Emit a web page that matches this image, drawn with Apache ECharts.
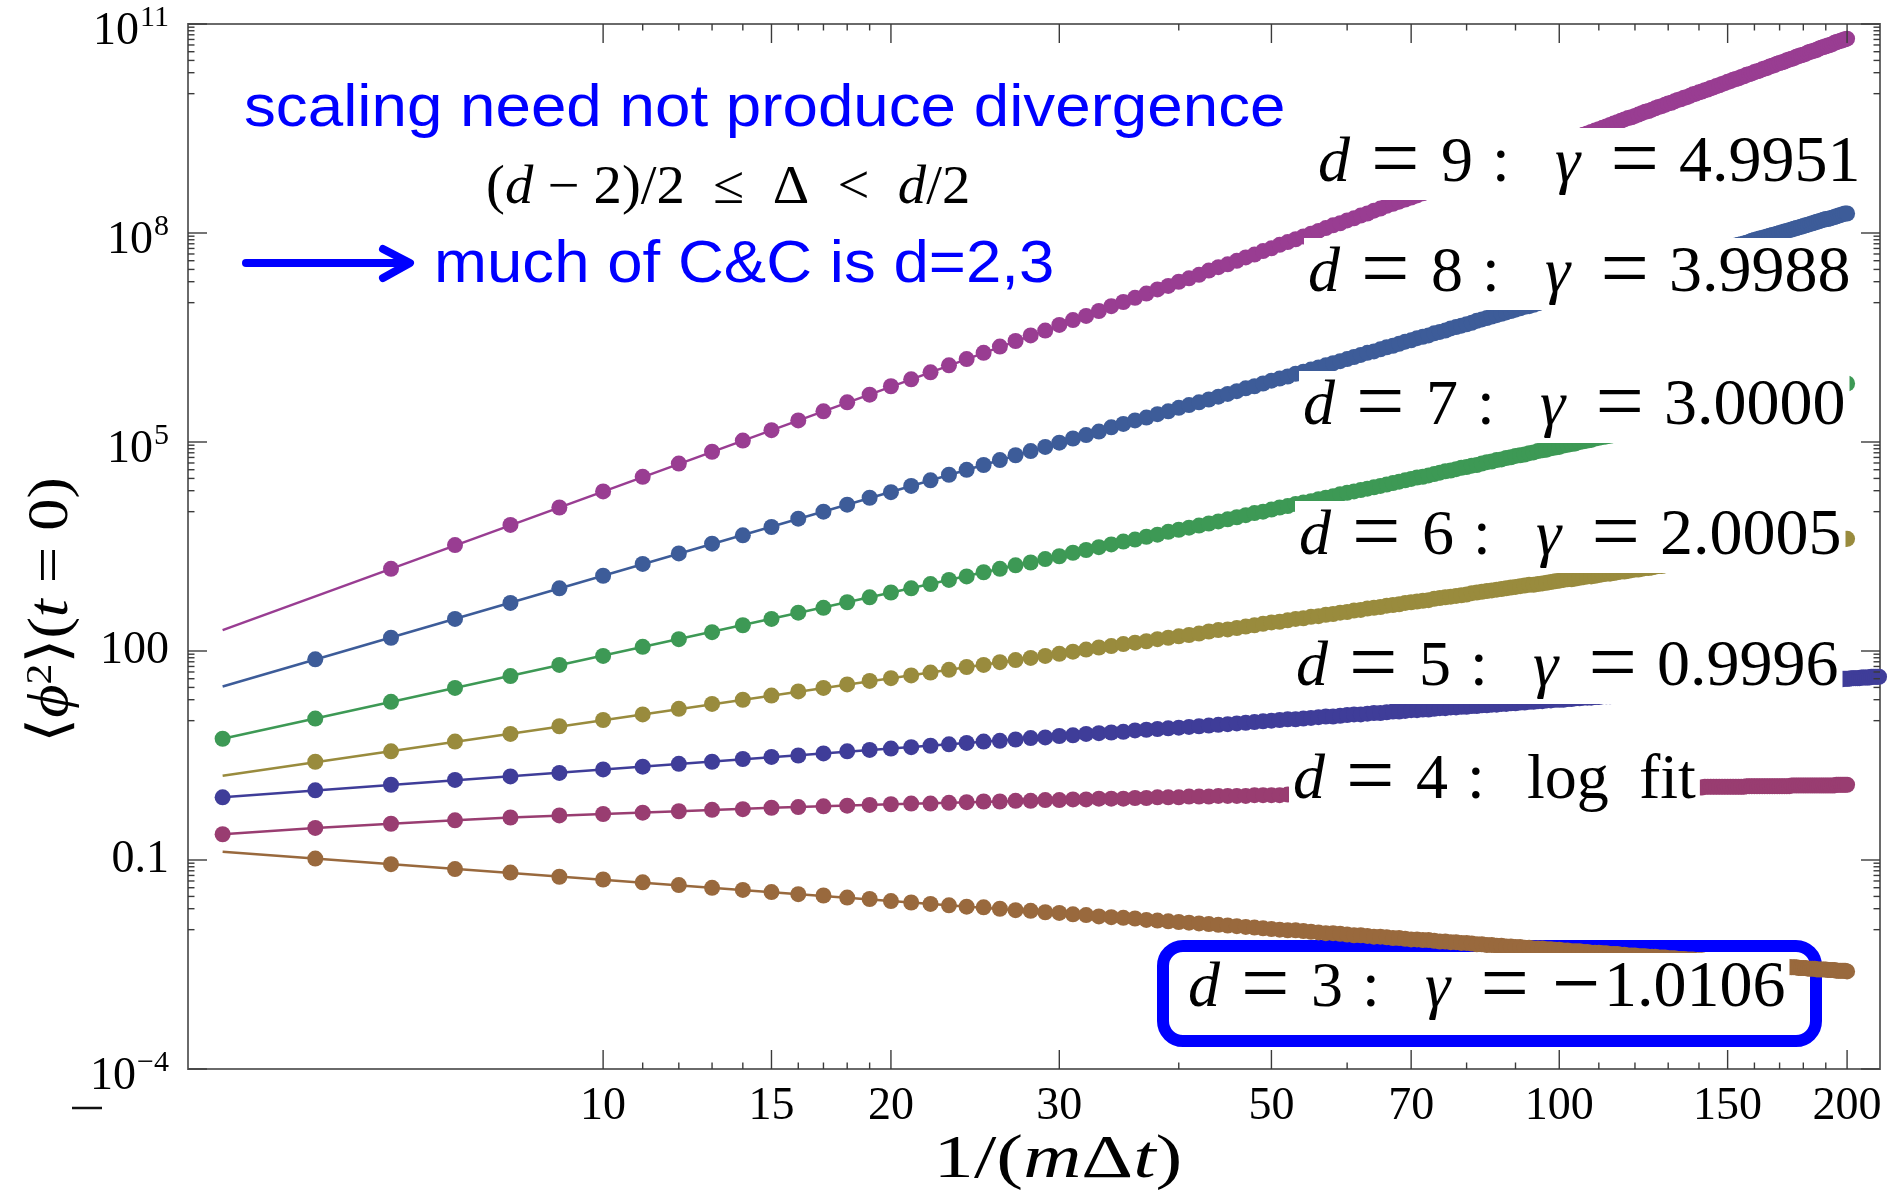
<!DOCTYPE html>
<html>
<head>
<meta charset="utf-8">
<title>phi^2 vs 1/(m dt)</title>
<script src="https://cdn.jsdelivr.net/npm/echarts@6/dist/echarts.min.js"></script>
<style>
  html, body { margin: 0; padding: 0; background: #fff; }
  #chart { width: 1895px; height: 1197px; }
</style>
</head>
<body>
<div id="chart"></div>
<script>
// ---------------------------------------------------------------
// Data: <phi^2>(t=0) against 1/(m dt), one set per dimension d.
// Values are stored as log10 of <phi^2>, one per integer N = 1/(m dt)
// starting at the set's first N.
// ---------------------------------------------------------------
const nValues = [4,5,6,7,8,9,10,11,12,13,14,15,16,17,18,19,20,21,22,23,24,25,26,27,28,29,30,
  31,32,33,34,35,36,37,38,39,40,41,42,43,44,45,46,47,48,49,50,51,52,53,54,55,56,57,58,59,60,
  61,62,63,64,65,66,67,68,69,70,71,72,73,74,75,76,77,78,79,80,81,82,83,84,85,86,87,88,89,90,
  91,92,93,94,95,96,97,98,99,100,101,102,103,104,105,106,107,108,109,110,111,112,113,114,115,
  116,117,118,119,120,121,122,123,124,125,126,127,128,129,130,131,132,133,134,135,136,137,138,
  139,140,141,142,143,144,145,146,147,148,149,150,151,152,153,154,155,156,157,158,159,160,161,
  162,163,164,165,166,167,168,169,170,171,172,173,174,175,176,177,178,179,180,181,182,183,184,
  185,186,187,188,189,190,191,192,193,194,195,196,197,198,199,200,201,202,203,204,205,206,207,
  208,209,210,211,212,213,214,215,216];

// d = 9, N = 6..200
const log10PhiD9 = [3.18,3.52,3.81,4.06,4.29,
  4.50,4.69,4.86,5.02,5.17,5.31,5.44,5.57,5.68,5.80,
  5.90,6.00,6.10,6.19,6.28,6.37,6.45,6.53,6.60,6.68,
  6.75,6.81,6.88,6.95,7.01,7.07,7.13,7.19,7.24,7.30,
  7.35,7.40,7.46,7.51,7.55,7.60,7.65,7.69,7.74,7.78,
  7.83,7.87,7.91,7.95,7.99,8.03,8.07,8.11,8.14,8.18,
  8.21,8.25,8.28,8.32,8.35,8.39,8.42,8.45,8.48,8.51,
  8.54,8.57,8.60,8.63,8.66,8.69,8.72,8.75,8.78,8.80,
  8.83,8.86,8.88,8.91,8.93,8.96,8.98,9.01,9.03,9.06,
  9.08,9.11,9.13,9.15,9.18,9.20,9.22,9.24,9.27,9.29,
  9.31,9.33,9.35,9.37,9.39,9.41,9.43,9.45,9.47,9.49,
  9.51,9.53,9.55,9.57,9.59,9.61,9.63,9.65,9.66,9.68,
  9.70,9.72,9.74,9.75,9.77,9.79,9.81,9.82,9.84,9.86,
  9.87,9.89,9.91,9.92,9.94,9.95,9.97,9.99,10.00,10.02,
  10.03,10.05,10.06,10.08,10.09,10.11,10.12,10.14,10.15,10.17,
  10.18,10.20,10.21,10.22,10.24,10.25,10.27,10.28,10.29,10.31,
  10.32,10.33,10.35,10.36,10.37,10.39,10.40,10.41,10.43,10.44,
  10.45,10.46,10.48,10.49,10.50,10.51,10.53,10.54,10.55,10.56,
  10.57,10.59,10.60,10.61,10.62,10.63,10.65,10.66,10.67,10.68,
  10.69,10.70,10.71,10.73,10.74,10.75,10.76,10.77,10.78,10.79];

// d = 8, N = 5..200
const log10PhiD8 = [1.88,2.19,2.46,2.69,2.90,3.08,
  3.25,3.40,3.54,3.66,3.78,3.90,4.00,4.10,4.20,4.28,
  4.37,4.45,4.53,4.60,4.67,4.74,4.81,4.87,4.93,4.99,
  5.05,5.10,5.15,5.21,5.26,5.31,5.35,5.40,5.44,5.49,
  5.53,5.57,5.61,5.65,5.69,5.73,5.77,5.80,5.84,5.88,
  5.91,5.94,5.98,6.01,6.04,6.07,6.10,6.13,6.16,6.19,
  6.22,6.25,6.28,6.30,6.33,6.36,6.38,6.41,6.44,6.46,
  6.49,6.51,6.53,6.56,6.58,6.60,6.63,6.65,6.67,6.69,
  6.71,6.74,6.76,6.78,6.80,6.82,6.84,6.86,6.88,6.90,
  6.92,6.94,6.95,6.97,6.99,7.01,7.03,7.04,7.06,7.08,
  7.10,7.11,7.13,7.15,7.16,7.18,7.20,7.21,7.23,7.25,
  7.26,7.28,7.29,7.31,7.32,7.34,7.35,7.37,7.38,7.40,
  7.41,7.43,7.44,7.45,7.47,7.48,7.50,7.51,7.52,7.54,
  7.55,7.56,7.58,7.59,7.60,7.61,7.63,7.64,7.65,7.66,
  7.68,7.69,7.70,7.71,7.73,7.74,7.75,7.76,7.77,7.78,
  7.80,7.81,7.82,7.83,7.84,7.85,7.86,7.87,7.89,7.90,
  7.91,7.92,7.93,7.94,7.95,7.96,7.97,7.98,7.99,8.00,
  8.01,8.02,8.03,8.04,8.05,8.06,8.07,8.08,8.09,8.10,
  8.11,8.12,8.13,8.14,8.15,8.16,8.17,8.18,8.19,8.20,
  8.20,8.21,8.22,8.23,8.24,8.25,8.26,8.27,8.28,8.28];

// d = 7, N = 4..200
const log10PhiD7 = [0.74,1.03,1.27,1.47,1.64,1.80,1.93,
  2.06,2.17,2.27,2.37,2.46,2.55,2.62,2.70,2.77,2.84,
  2.90,2.96,3.02,3.07,3.13,3.18,3.23,3.27,3.32,3.36,
  3.41,3.45,3.49,3.53,3.57,3.60,3.64,3.67,3.71,3.74,
  3.77,3.80,3.83,3.86,3.89,3.92,3.95,3.98,4.00,4.03,
  4.06,4.08,4.11,4.13,4.15,4.18,4.20,4.22,4.25,4.27,
  4.29,4.31,4.33,4.35,4.37,4.39,4.41,4.43,4.45,4.47,
  4.49,4.50,4.52,4.54,4.56,4.58,4.59,4.61,4.63,4.64,
  4.66,4.67,4.69,4.71,4.72,4.74,4.75,4.77,4.78,4.80,
  4.81,4.82,4.84,4.85,4.87,4.88,4.89,4.91,4.92,4.93,
  4.95,4.96,4.97,4.98,5.00,5.01,5.02,5.03,5.05,5.06,
  5.07,5.08,5.09,5.10,5.12,5.13,5.14,5.15,5.16,5.17,
  5.18,5.19,5.20,5.21,5.22,5.23,5.24,5.25,5.26,5.27,
  5.28,5.29,5.30,5.31,5.32,5.33,5.34,5.35,5.36,5.37,
  5.38,5.39,5.40,5.41,5.42,5.43,5.43,5.44,5.45,5.46,
  5.47,5.48,5.49,5.50,5.50,5.51,5.52,5.53,5.54,5.55,
  5.55,5.56,5.57,5.58,5.59,5.59,5.60,5.61,5.62,5.62,
  5.63,5.64,5.65,5.65,5.66,5.67,5.68,5.68,5.69,5.70,
  5.71,5.71,5.72,5.73,5.73,5.74,5.75,5.76,5.76,5.77,
  5.78,5.78,5.79,5.80,5.80,5.81,5.82,5.82,5.83,5.84];

// d = 6, N = 5..200
const log10PhiD6 = [0.41,0.56,0.70,0.81,0.92,1.01,
  1.09,1.17,1.24,1.30,1.36,1.42,1.47,1.52,1.57,1.61,
  1.65,1.69,1.73,1.77,1.80,1.84,1.87,1.90,1.93,1.96,
  1.99,2.02,2.05,2.07,2.10,2.12,2.14,2.17,2.19,2.21,
  2.23,2.25,2.28,2.30,2.31,2.33,2.35,2.37,2.39,2.41,
  2.42,2.44,2.46,2.47,2.49,2.50,2.52,2.53,2.55,2.56,
  2.58,2.59,2.61,2.62,2.63,2.65,2.66,2.67,2.69,2.70,
  2.71,2.72,2.73,2.75,2.76,2.77,2.78,2.79,2.80,2.81,
  2.83,2.84,2.85,2.86,2.87,2.88,2.89,2.90,2.91,2.92,
  2.93,2.94,2.95,2.95,2.96,2.97,2.98,2.99,3.00,3.01,
  3.02,3.03,3.03,3.04,3.05,3.06,3.07,3.07,3.08,3.09,
  3.10,3.11,3.11,3.12,3.13,3.14,3.14,3.15,3.16,3.17,
  3.17,3.18,3.19,3.19,3.20,3.21,3.22,3.22,3.23,3.24,
  3.24,3.25,3.26,3.26,3.27,3.28,3.28,3.29,3.29,3.30,
  3.31,3.31,3.32,3.32,3.33,3.34,3.34,3.35,3.35,3.36,
  3.37,3.37,3.38,3.38,3.39,3.39,3.40,3.41,3.41,3.42,
  3.42,3.43,3.43,3.44,3.44,3.45,3.45,3.46,3.46,3.47,
  3.47,3.48,3.48,3.49,3.49,3.50,3.50,3.51,3.51,3.52,
  3.52,3.53,3.53,3.54,3.54,3.55,3.55,3.56,3.56,3.57,
  3.57,3.57,3.58,3.58,3.59,3.59,3.60,3.60,3.61,3.61];

// d = 5, N = 4..216
const log10PhiD5 = [-0.10,0.00,0.08,0.15,0.20,0.25,0.30,
  0.34,0.38,0.41,0.45,0.48,0.50,0.53,0.56,0.58,0.60,
  0.62,0.64,0.66,0.68,0.70,0.71,0.73,0.75,0.76,0.78,
  0.79,0.81,0.82,0.83,0.84,0.86,0.87,0.88,0.89,0.90,
  0.91,0.92,0.93,0.94,0.95,0.96,0.97,0.98,0.99,1.00,
  1.01,1.02,1.02,1.03,1.04,1.05,1.06,1.06,1.07,1.08,
  1.09,1.09,1.10,1.11,1.11,1.12,1.13,1.13,1.14,1.15,
  1.15,1.16,1.16,1.17,1.18,1.18,1.19,1.19,1.20,1.20,
  1.21,1.21,1.22,1.22,1.23,1.23,1.24,1.24,1.25,1.25,
  1.26,1.26,1.27,1.27,1.28,1.28,1.29,1.29,1.30,1.30,
  1.30,1.31,1.31,1.32,1.32,1.33,1.33,1.33,1.34,1.34,
  1.35,1.35,1.35,1.36,1.36,1.36,1.37,1.37,1.38,1.38,
  1.38,1.39,1.39,1.39,1.40,1.40,1.40,1.41,1.41,1.41,
  1.42,1.42,1.42,1.43,1.43,1.43,1.44,1.44,1.44,1.45,
  1.45,1.45,1.46,1.46,1.46,1.46,1.47,1.47,1.47,1.48,
  1.48,1.48,1.48,1.49,1.49,1.49,1.50,1.50,1.50,1.50,
  1.51,1.51,1.51,1.51,1.52,1.52,1.52,1.53,1.53,1.53,
  1.53,1.54,1.54,1.54,1.54,1.55,1.55,1.55,1.55,1.56,
  1.56,1.56,1.56,1.56,1.57,1.57,1.57,1.57,1.58,1.58,
  1.58,1.58,1.59,1.59,1.59,1.59,1.59,1.60,1.60,1.60,
  1.60,1.61,1.61,1.61,1.61,1.61,1.62,1.62,1.62,1.62,
  1.62,1.63,1.63,1.63,1.63,1.63];

// d = 4, N = 4..200
const log10PhiD4 = [-0.63,-0.54,-0.48,-0.43,-0.39,-0.36,-0.34,
  -0.32,-0.30,-0.28,-0.27,-0.25,-0.24,-0.23,-0.22,-0.21,-0.20,
  -0.19,-0.19,-0.18,-0.17,-0.16,-0.16,-0.15,-0.15,-0.14,-0.14,
  -0.13,-0.13,-0.12,-0.12,-0.12,-0.11,-0.11,-0.10,-0.10,-0.10,
  -0.09,-0.09,-0.09,-0.08,-0.08,-0.08,-0.08,-0.07,-0.07,-0.07,
  -0.07,-0.06,-0.06,-0.06,-0.06,-0.05,-0.05,-0.05,-0.05,-0.05,
  -0.04,-0.04,-0.04,-0.04,-0.04,-0.03,-0.03,-0.03,-0.03,-0.03,
  -0.03,-0.03,-0.02,-0.02,-0.02,-0.02,-0.02,-0.02,-0.01,-0.01,
  -0.01,-0.01,-0.01,-0.01,-0.01,-0.01,0.00,0.00,0.00,0.00,
  0.00,0.00,0.00,0.00,0.01,0.01,0.01,0.01,0.01,0.01,
  0.01,0.01,0.01,0.01,0.02,0.02,0.02,0.02,0.02,0.02,
  0.02,0.02,0.02,0.02,0.02,0.03,0.03,0.03,0.03,0.03,
  0.03,0.03,0.03,0.03,0.03,0.03,0.03,0.04,0.04,0.04,
  0.04,0.04,0.04,0.04,0.04,0.04,0.04,0.04,0.04,0.04,
  0.04,0.05,0.05,0.05,0.05,0.05,0.05,0.05,0.05,0.05,
  0.05,0.05,0.05,0.05,0.05,0.05,0.06,0.06,0.06,0.06,
  0.06,0.06,0.06,0.06,0.06,0.06,0.06,0.06,0.06,0.06,
  0.06,0.06,0.06,0.06,0.07,0.07,0.07,0.07,0.07,0.07,
  0.07,0.07,0.07,0.07,0.07,0.07,0.07,0.07,0.07,0.07,
  0.07,0.07,0.07,0.07,0.08,0.08,0.08,0.08,0.08,0.08];

// d = 3, N = 5..200
const log10PhiD3 = [-0.98,-1.06,-1.13,-1.18,-1.24,-1.28,
  -1.32,-1.36,-1.40,-1.43,-1.46,-1.49,-1.51,-1.54,-1.56,-1.59,
  -1.61,-1.63,-1.65,-1.67,-1.68,-1.70,-1.72,-1.73,-1.75,-1.76,
  -1.78,-1.79,-1.81,-1.82,-1.83,-1.84,-1.86,-1.87,-1.88,-1.89,
  -1.90,-1.91,-1.92,-1.93,-1.94,-1.95,-1.96,-1.97,-1.98,-1.99,
  -2.00,-2.01,-2.01,-2.02,-2.03,-2.04,-2.05,-2.05,-2.06,-2.07,
  -2.08,-2.08,-2.09,-2.10,-2.10,-2.11,-2.12,-2.12,-2.13,-2.14,
  -2.14,-2.15,-2.15,-2.16,-2.17,-2.17,-2.18,-2.18,-2.19,-2.19,
  -2.20,-2.21,-2.21,-2.22,-2.22,-2.23,-2.23,-2.24,-2.24,-2.25,
  -2.25,-2.26,-2.26,-2.27,-2.27,-2.27,-2.28,-2.28,-2.29,-2.29,
  -2.30,-2.30,-2.31,-2.31,-2.31,-2.32,-2.32,-2.33,-2.33,-2.33,
  -2.34,-2.34,-2.35,-2.35,-2.35,-2.36,-2.36,-2.37,-2.37,-2.37,
  -2.38,-2.38,-2.38,-2.39,-2.39,-2.39,-2.40,-2.40,-2.40,-2.41,
  -2.41,-2.41,-2.42,-2.42,-2.42,-2.43,-2.43,-2.43,-2.44,-2.44,
  -2.44,-2.45,-2.45,-2.45,-2.46,-2.46,-2.46,-2.46,-2.47,-2.47,
  -2.47,-2.48,-2.48,-2.48,-2.49,-2.49,-2.49,-2.49,-2.50,-2.50,
  -2.50,-2.50,-2.51,-2.51,-2.51,-2.52,-2.52,-2.52,-2.52,-2.53,
  -2.53,-2.53,-2.53,-2.54,-2.54,-2.54,-2.54,-2.55,-2.55,-2.55,
  -2.55,-2.56,-2.56,-2.56,-2.56,-2.57,-2.57,-2.57,-2.57,-2.57,
  -2.58,-2.58,-2.58,-2.58,-2.59,-2.59,-2.59,-2.59,-2.59,-2.60];

// Fitted curves (log10 <phi^2>) drawn as thin lines under the points
const fitNPower = [4, 200];
const fitD9 = [2.30, 10.79];
const fitD8 = [1.49, 8.28];
const fitD7 = [0.74, 5.84];
const fitD6 = [0.21, 3.61];
const fitD5 = [-0.10, 1.60];
const fitD3 = [-0.88, -2.60];
const fitNLog = [4, 5, 6, 7, 8, 10, 12, 15, 20, 30, 40, 60, 80, 100, 150, 200];
const fitD4 = [-0.63, -0.54, -0.48, -0.43, -0.39, -0.34, -0.30, -0.25, -0.20, -0.14, -0.10, -0.05, -0.01, 0.01, 0.05, 0.08];

// Label texts
const dimensionLabels = ['9', '8', '7', '6', '5', '4', '3'];
const exponentLabels = ['4.9951', '3.9988', '3.0000', '2.0005', '0.9996', 'log fit', '\u22121.0106'];

// Axis ticks
const xMajorTicks = [10, 15, 20, 30, 50, 70, 100, 150, 200];
const xMinorTicks = [11, 12, 13, 14, 16, 17, 18, 19, 40, 60, 80, 90, 110, 120, 130, 140, 160, 170, 180, 190];
const yMajorTicks = [1e11, 1e8, 1e5, 100, 0.1, 1e-4];
const yTickBase = ['10', '10', '10', '100', '0.1', '10'];
const yTickSup = ['11', '8', '5', '', '', '\u22124'];

// ---------------------------------------------------------------
const X_MIN = 3.68, X_MAX = 216.5;
const Y_MIN = 1e-4, Y_MAX = 1e11;
const SERIF = "'Liberation Serif', 'DejaVu Serif', serif";
const SANS = "'Liberation Sans', Arial, sans-serif";
const TICK_COLOR = '#3a3a3a';
const BLUE = '#0000ff';

const yMinorTicks = [];
yMajorTicks.forEach(function (m) {
  if (m <= Y_MIN) return;
  for (let k = 9; k >= 1; k--) yMinorTicks.push(k * m / 10);
});

function toPoints(firstN, logValues) {
  const i0 = nValues.indexOf(firstN);
  return logValues.map(function (v, i) { return [nValues[i0 + i], Math.pow(10, v)]; });
}
function toCurve(ns, logValues) {
  return ns.map(function (n, i) { return [n, Math.pow(10, logValues[i])]; });
}

const sets = [
  { color: '#993d92', first: 6, values: log10PhiD9, fitN: fitNPower, fit: fitD9 },
  { color: '#3d5c99', first: 5, values: log10PhiD8, fitN: fitNPower, fit: fitD8 },
  { color: '#3d9955', first: 4, values: log10PhiD7, fitN: fitNPower, fit: fitD7 },
  { color: '#998b3d', first: 5, values: log10PhiD6, fitN: fitNPower, fit: fitD6 },
  { color: '#3f3d99', first: 4, values: log10PhiD5, fitN: fitNPower, fit: fitD5 },
  { color: '#993d71', first: 4, values: log10PhiD4, fitN: fitNLog, fit: fitD4 },
  { color: '#99693d', first: 5, values: log10PhiD3, fitN: fitNPower, fit: fitD3 }
];

const series = [];
sets.forEach(function (s, idx) {
  series.push({
    type: 'line', name: 'fit d=' + dimensionLabels[idx], silent: true, z: 2,
    data: toCurve(s.fitN, s.fit), showSymbol: false, symbol: 'none',
    lineStyle: { color: s.color, width: 2.5 }
  });
});
sets.forEach(function (s, idx) {
  series.push({
    type: 'scatter', name: 'd=' + dimensionLabels[idx], silent: true, z: 3,
    data: toPoints(s.first, s.values), symbol: 'circle', symbolSize: 16,
    itemStyle: { color: s.color, opacity: 1 }
  });
});

// --- frame ticks and tick labels ---
const measureCtx = document.createElement('canvas').getContext('2d');
function textWidth(t, size) {
  measureCtx.font = size + 'px ' + SERIF;
  return measureCtx.measureText(t).width;
}
function tickLine(x1, y1, x2, y2) {
  return { type: 'line', shape: { x1: x1, y1: y1, x2: x2, y2: y2 }, style: { stroke: TICK_COLOR, lineWidth: 1.4 } };
}
function xTickRenderer(isMajor) {
  return function (params, api) {
    const cs = params.coordSys;
    const v = api.value(0);
    const px = api.coord([v, Y_MIN])[0];
    const len = isMajor ? 19 : 6.5;
    const bottom = cs.y + cs.height, top = cs.y;
    const children = [tickLine(px, bottom, px, bottom - len), tickLine(px, top, px, top + len)];
    if (isMajor) {
      children.push({
        type: 'text', x: px, y: bottom + 38,
        style: { text: String(v), fontFamily: SERIF, fontSize: 46, fill: '#000', align: 'center', verticalAlign: 'middle' }
      });
    }
    return { type: 'group', children: children };
  };
}
function yTickRenderer(isMajor) {
  return function (params, api) {
    const cs = params.coordSys;
    const v = api.value(1);
    const py = api.coord([X_MIN, v])[1];
    const len = isMajor ? 19 : 6.5;
    const left = cs.x, right = cs.x + cs.width;
    const children = [tickLine(left, py, left + len, py), tickLine(right, py, right - len, py)];
    if (isMajor) {
      const i = params.dataIndex;
      const labelRight = left - 19;
      const sup = yTickSup[i];
      if (sup) {
        const supW = textWidth(sup, 30);
        children.push({
          type: 'text', x: labelRight, y: py - 6,
          style: { text: sup, fontFamily: SERIF, fontSize: 30, fill: '#000', align: 'right', verticalAlign: 'middle' }
        });
        children.push({
          type: 'text', x: labelRight - supW - 1, y: py + 8,
          style: { text: yTickBase[i], fontFamily: SERIF, fontSize: 46, fill: '#000', align: 'right', verticalAlign: 'middle' }
        });
      } else {
        children.push({
          type: 'text', x: labelRight, y: py,
          style: { text: yTickBase[i], fontFamily: SERIF, fontSize: 46, fill: '#000', align: 'right', verticalAlign: 'middle' }
        });
      }
    }
    return { type: 'group', children: children };
  };
}
series.push({ type: 'custom', silent: true, clip: false, z: 6, data: xMajorTicks.map(function (v) { return [v, Y_MIN]; }), renderItem: xTickRenderer(true) });
series.push({ type: 'custom', silent: true, clip: false, z: 6, data: xMinorTicks.map(function (v) { return [v, Y_MIN]; }), renderItem: xTickRenderer(false) });
series.push({ type: 'custom', silent: true, clip: false, z: 6, data: yMajorTicks.map(function (v) { return [X_MIN, v]; }), renderItem: yTickRenderer(true) });
series.push({ type: 'custom', silent: true, clip: false, z: 6, data: yMinorTicks.map(function (v) { return [X_MIN, v]; }), renderItem: yTickRenderer(false) });

// --- exponent labels (white boxes over the dense ends of the sets) ---
function tok(extra) {
  return Object.assign({ fontFamily: SERIF, fontSize: 64, lineHeight: 72, fill: '#000' }, extra);
}
// relation signs are set a little larger so they read like the math font
function rel(width) {
  return tok({ fontSize: 86, width: width });
}
// left edge of "d" and text baseline for each label
const labelLayout = [
  { left: 1318, base: 185 }, { left: 1308, base: 295 }, { left: 1303, base: 428 },
  { left: 1299, base: 558 }, { left: 1296, base: 689 }, { left: 1293, base: 802 },
  { left: 1188, base: 1010 }
];
const labelElements = labelLayout.map(function (lay, i) {
  const d = dimensionLabels[i];
  const rhs = exponentLabels[i];
  let text, rich;
  if (rhs.indexOf('log') === 0) {
    const words = rhs.split(' ');
    text = '{d|d}{eq|=}{n|' + d + '}{c|:}{t|' + words[0] + '}{t2|' + words[1] + '}';
    rich = { d: tok({ fontStyle: 'italic', width: 53 }), eq: rel(70), n: tok({ width: 51 }), c: tok({ width: 60 }),
      t: tok({ width: 112 }), t2: tok({}) };
  } else if (rhs.charAt(0) === '\u2212') {
    text = '{d|d}{eq|=}{n|' + d + '}{c|:}{g|\u03b3}{eq2|=}{m|\u2212}{v|' + rhs.slice(1) + '}';
    rich = { d: tok({ fontStyle: 'italic', width: 53 }), eq: rel(70), n: tok({ width: 51 }), c: tok({ width: 63 }),
      g: tok({ fontStyle: 'italic', width: 55.5 }), eq2: rel(71.5), m: rel(52), v: tok({ fontSize: 66 }) };
  } else {
    text = '{d|d}{eq|=}{n|' + d + '}{c|:}{g|\u03b3}{eq2|=}{v|' + rhs + '}';
    rich = { d: tok({ fontStyle: 'italic', width: 53 }), eq: rel(70), n: tok({ width: 51 }), c: tok({ width: 63 }),
      g: tok({ fontStyle: 'italic', width: 55.5 }), eq2: rel(68.5), v: tok({ fontSize: 66 }) };
  }
  return {
    type: 'text', x: lay.left - 4, y: lay.base - 57, z: 20,
    style: {
      text: text, rich: rich, fontFamily: SERIF, fontSize: 64, lineHeight: 72, fill: '#000',
      backgroundColor: '#fff', padding: [0, 4, 0, 4], align: 'left', verticalAlign: 'top'
    }
  };
});

const graphicElements = [
  // rounded frame around the d = 3 result (drawn beneath the points)
  { type: 'rect', z: 1, shape: { x: 1163, y: 946, width: 653, height: 95, r: 20 },
    style: { fill: '#fff', stroke: BLUE, lineWidth: 12 } },
  // annotations
  { type: 'text', x: 244, y: 109, z: 20, scaleX: 1.062,
    style: { text: 'scaling need not produce divergence', fontFamily: SANS, fontSize: 60, fill: BLUE, align: 'left', verticalAlign: 'middle' } },
  { type: 'text', x: 486, y: 189, z: 20, scaleX: 1.05,
    style: { text: '({i|d} \u2212 2)/2  \u2264  \u0394  <  {i|d}/2', fontFamily: SERIF, fontSize: 54, fill: '#000', align: 'left', verticalAlign: 'middle',
      rich: { i: { fontFamily: SERIF, fontSize: 54, fontStyle: 'italic', fill: '#000' } } } },
  { type: 'line', z: 20, shape: { x1: 246, y1: 263, x2: 408, y2: 263 },
    style: { stroke: BLUE, lineWidth: 8, lineCap: 'round' } },
  { type: 'polyline', z: 20, shape: { points: [[383, 249], [410, 263], [383, 278]] },
    style: { stroke: BLUE, lineWidth: 8, lineCap: 'round', lineJoin: 'round', fill: null } },
  { type: 'text', x: 434, y: 265, z: 20, scaleX: 1.06,
    style: { text: 'much of C&C is d=2,3', fontFamily: SANS, fontSize: 60, fill: BLUE, align: 'left', verticalAlign: 'middle' } },
  // axis titles
  { type: 'text', x: 1058, y: 1161, z: 20, scaleX: 1.3,
    style: { text: '1/({i|m}\u0394{i|t})', fontFamily: SERIF, fontSize: 62, fill: '#000', align: 'center', verticalAlign: 'middle',
      rich: { i: { fontFamily: SERIF, fontSize: 62, fontStyle: 'italic', fill: '#000' } } } },
  { type: 'text', x: 52, y: 610, z: 20, rotation: Math.PI / 2, scaleX: 1.15,
    style: { text: '\u27e8{i|\u03d5}{s|2}\u27e9({i|t} = 0)', fontFamily: SERIF, fontSize: 56, fill: '#000', align: 'center', verticalAlign: 'middle',
      rich: { i: { fontFamily: SERIF, fontSize: 56, fontStyle: 'italic', fill: '#000' },
              s: { fontFamily: SERIF, fontSize: 36, fill: '#000', verticalAlign: 'top', lineHeight: 36 } } } },
  // stray dash under the lowest tick label
  { type: 'line', z: 20, shape: { x1: 72, y1: 1108, x2: 102, y2: 1108 }, style: { stroke: '#111', lineWidth: 2.5 } }
].concat(labelElements);

const chart = echarts.init(document.getElementById('chart'), null, { renderer: 'canvas' });
chart.setOption({
  animation: false,
  backgroundColor: '#fff',
  grid: { left: 188, right: 15, top: 24, bottom: 128, show: true, borderColor: '#6a6a6a', borderWidth: 2, backgroundColor: 'transparent' },
  xAxis: { type: 'log', logBase: 10, min: X_MIN, max: X_MAX,
    axisLine: { show: false }, axisTick: { show: false }, axisLabel: { show: false }, splitLine: { show: false } },
  yAxis: { type: 'log', logBase: 10, min: Y_MIN, max: Y_MAX,
    axisLine: { show: false }, axisTick: { show: false }, axisLabel: { show: false }, splitLine: { show: false } },
  series: series,
  graphic: { elements: graphicElements }
});
</script>
</body>
</html>
